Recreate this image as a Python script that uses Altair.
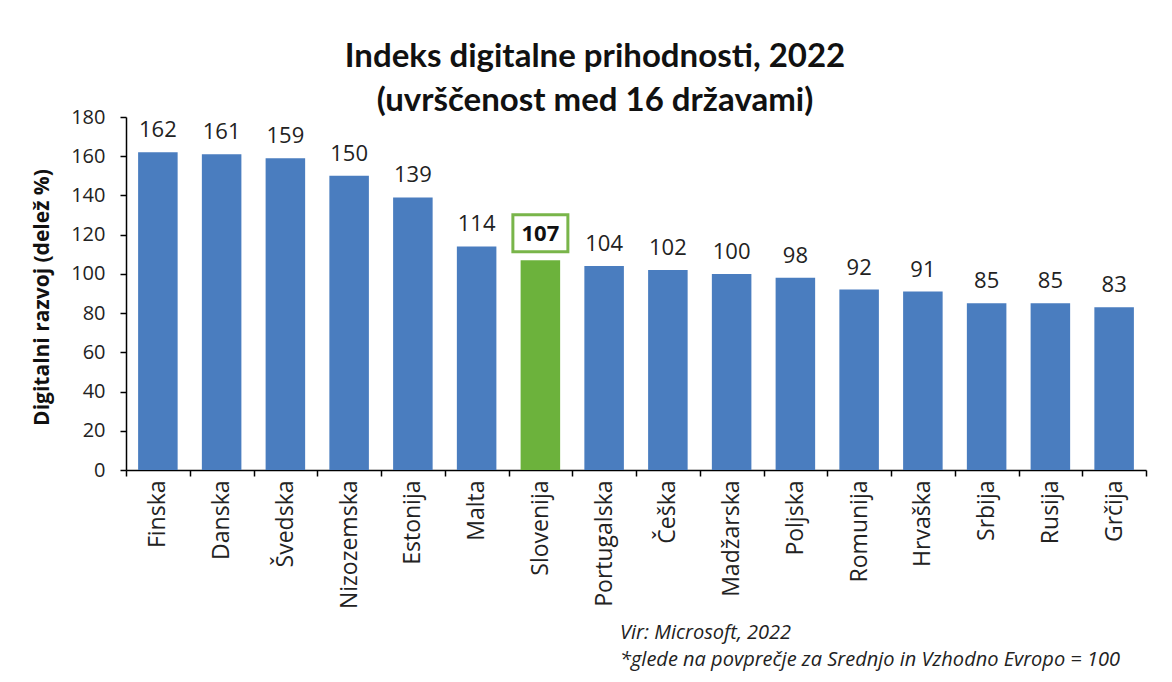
import altair as alt
import pandas as pd

countries = ["Finska", "Danska", "Švedska", "Nizozemska", "Estonija", "Malta",
             "Slovenija", "Portugalska", "Češka", "Madžarska", "Poljska",
             "Romunija", "Hrvaška", "Srbija", "Rusija", "Grčija"]
values = [162, 161, 159, 150, 139, 114, 107, 104, 102, 100, 98, 92, 91, 85, 85, 83]
highlight = "Slovenija"
title_lines = ["Indeks digitalne prihodnosti, 2022", "(uvrščenost med 16 državami)"]
y_title = "Digitalni razvoj (delež %)"
footer_lines = ["Vir: Microsoft, 2022",
                "*glede na povprečje za Srednjo in Vzhodno Evropo = 100"]
y_ticks = [0, 20, 40, 60, 80, 100, 120, 140, 160, 180]

BLUE = "#4a7dbf"
GREEN = "#6cb23c"
BOX = "#79b54a"
FONT = "Open Sans"

df = pd.DataFrame({"country": countries, "value": values})
df["grp"] = ["hl" if c == highlight else "other" for c in countries]

x_enc = alt.X("country:N", sort=countries, title=None,
              scale=alt.Scale(paddingInner=0, paddingOuter=0),
              axis=alt.Axis(labelAngle=-90, labelFont=FONT, labelFontSize=23,
                            labelColor="#222", tickBand="extent", domainColor="#000",
                            tickColor="#000", tickSize=6, labelPadding=4,
                            labelOverlap=False, domainWidth=1.5, tickWidth=1.5))
y_enc = alt.Y("value:Q", scale=alt.Scale(domain=[0, 180], nice=False),
              axis=alt.Axis(values=y_ticks, tickCount=10, grid=False, title=y_title,
                            titleFont=FONT, titleFontSize=21, titleFontWeight="bold",
                            titleColor="#111", titleX=-84, titleY=180,
                            titleAlign="center", titleBaseline="middle", titleAngle=-90,
                            labelFont=FONT, labelFontSize=20, labelColor="#222",
                            labelPadding=15, tickSize=6, tickColor="#000",
                            labelOverlap=False, labelFlush=False,
                            domainColor="#000", domainWidth=1.5, tickWidth=1.5))

base = alt.Chart(df)

bars = base.mark_bar(width=alt.RelativeBandSize(0.62)).encode(
    x=x_enc, y=y_enc,
    color=alt.Color("grp:N", scale=alt.Scale(domain=["other", "hl"], range=[BLUE, GREEN]),
                    legend=None))

labels = base.transform_filter(alt.datum.grp == "other").mark_text(
    dy=-15, font=FONT, fontSize=22, color="#222", baseline="alphabetic").encode(
    x=x_enc, y=y_enc, text="value:Q")

hl_label = base.transform_filter(alt.datum.grp == "hl").mark_text(
    dy=-19, font=FONT, fontSize=22, fontWeight="bold", color="#111",
    baseline="alphabetic").encode(
    x=x_enc, y=y_enc, text="value:Q")

hl_box = base.transform_filter(alt.datum.grp == "hl").mark_point(
    shape="M-1,-0.673L1,-0.673L1,0.673L-1,0.673Z", size=3025, filled=False,
    stroke=BOX, strokeWidth=3, opacity=1, yOffset=-27).encode(
    x=x_enc, y=y_enc)

footer = alt.Chart(pd.DataFrame({"t": ["\n".join(footer_lines)]})).mark_text(
    align="left", baseline="alphabetic", lineBreak="\n", lineHeight=27,
    font=FONT, fontStyle="italic", fontSize=20, color="#222").encode(
    x=alt.value(494), y=alt.value(522), text="t:N")

chart = alt.layer(bars, labels, hl_box, hl_label, footer).properties(
    width=1020, height=353,
    title=alt.TitleParams(text=title_lines, font="Lato", fontSize=33, fontWeight="bold",
                          anchor="middle", dx=-41, dy=9, offset=-2, lineHeight=44,
                          color="#111"),
    autosize=alt.AutoSizeParams(type="none"),
    padding={"left": 118, "top": 109, "right": 18, "bottom": 204},
    background="white",
).configure_view(stroke=None)

chart.save("out.html", embed_options={"renderer": "svg", "actions": False})
